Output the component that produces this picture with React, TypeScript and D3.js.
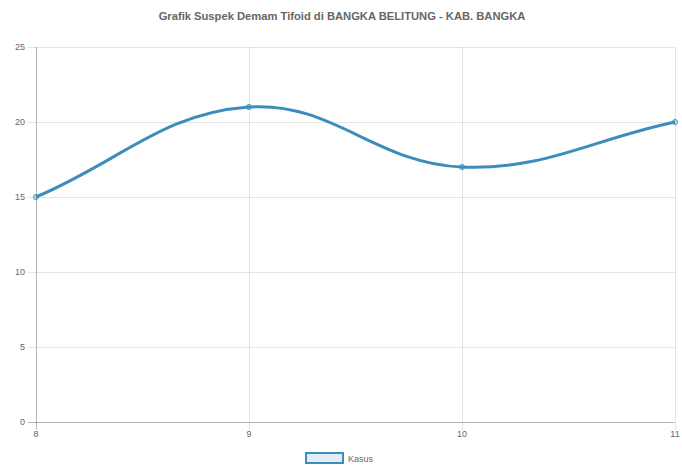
import React from "react";
import * as d3 from "d3";

const title = "Grafik Suspek Demam Tifoid di BANGKA BELITUNG - KAB. BANGKA";
const categories = ["8", "9", "10", "11"];
const kasus = [15, 21, 17, 20];
const yTicks = [0, 5, 10, 15, 20, 25];
const seriesName = "Kasus";

const W = 682;
const H = 469;
const left = 36;
const right = 675;
const top = 47;
const bottom = 422;
const lineColor = "#3c8dbc";
const gridColor = "rgba(0,0,0,0.1)";
const textColor = "#666";
const font = "'Liberation Sans', Arial, Helvetica, sans-serif";

function splinePath(pts: [number, number][], t: number) {
  const p = d3.path();
  const cps: { px: number; py: number; nx: number; ny: number }[] = [];
  for (let i = 0; i < pts.length; i++) {
    const prev = pts[Math.max(0, i - 1)];
    const cur = pts[i];
    const next = pts[Math.min(pts.length - 1, i + 1)];
    const d01 = Math.hypot(cur[0] - prev[0], cur[1] - prev[1]);
    const d12 = Math.hypot(next[0] - cur[0], next[1] - cur[1]);
    let s01 = d01 / (d01 + d12);
    let s12 = d12 / (d01 + d12);
    if (!isFinite(s01)) s01 = 0;
    if (!isFinite(s12)) s12 = 0;
    const fa = t * s01;
    const fb = t * s12;
    cps.push({
      px: cur[0] - fa * (next[0] - prev[0]),
      py: cur[1] - fa * (next[1] - prev[1]),
      nx: cur[0] + fb * (next[0] - prev[0]),
      ny: cur[1] + fb * (next[1] - prev[1]),
    });
  }
  p.moveTo(pts[0][0], pts[0][1]);
  for (let i = 1; i < pts.length; i++) {
    p.bezierCurveTo(cps[i - 1].nx, cps[i - 1].ny, cps[i].px, cps[i].py, pts[i][0], pts[i][1]);
  }
  return p.toString();
}

export default function App() {
  const x = d3.scalePoint<string>().domain(categories).range([left, right]);
  const y = d3.scaleLinear().domain([0, 25]).range([bottom, top]);
  const pts: [number, number][] = kasus.map((v, i) => [x(categories[i]) as number, y(v)]);
  const d = splinePath(pts, 0.4);

  return (
    <svg width={W} height={H} style={{ position: "absolute", left: 0, top: 0, background: "#fff" }}>
      <text x={W / 2 + 1} y={20} textAnchor="middle" fontFamily={font} fontSize={11.2} fontWeight="bold" fill={textColor}>
        {title}
      </text>
      {yTicks.map((t) => (
        <g key={"y" + t}>
          <line x1={left - 8} x2={right} y1={y(t) + 0.5} y2={y(t) + 0.5} stroke={gridColor} />
          <text x={left - 11} y={y(t) + 3} textAnchor="end" fontFamily={font} fontSize={9} fill={textColor}>
            {t}
          </text>
        </g>
      ))}
      {categories.map((c) => (
        <g key={"x" + c}>
          <line x1={(x(c) as number) + 0.5} x2={(x(c) as number) + 0.5} y1={top} y2={bottom + 8} stroke={gridColor} />
          <text x={x(c) as number} y={bottom + 15} textAnchor="middle" fontFamily={font} fontSize={9} fill={textColor}>
            {c}
          </text>
        </g>
      ))}
      <line x1={left - 8} x2={right} y1={bottom + 0.5} y2={bottom + 0.5} stroke="rgba(0,0,0,0.2)" />
      <line x1={left + 0.5} x2={left + 0.5} y1={top} y2={bottom + 8} stroke="rgba(0,0,0,0.2)" />
      <path d={d} fill="none" stroke={lineColor} strokeWidth={3} />
      {pts.map((p, i) => (
        <circle key={i} cx={p[0]} cy={p[1]} r={2.5} fill="rgba(60,141,188,0.2)" stroke={lineColor} strokeWidth={1} />
      ))}
      <rect x={306} y={453} width={37} height={10} fill="rgba(60,141,188,0.15)" stroke={lineColor} strokeWidth={2} />
      <text x={348} y={462} fontFamily={font} fontSize={9} fill={textColor}>
        {seriesName}
      </text>
    </svg>
  );
}
